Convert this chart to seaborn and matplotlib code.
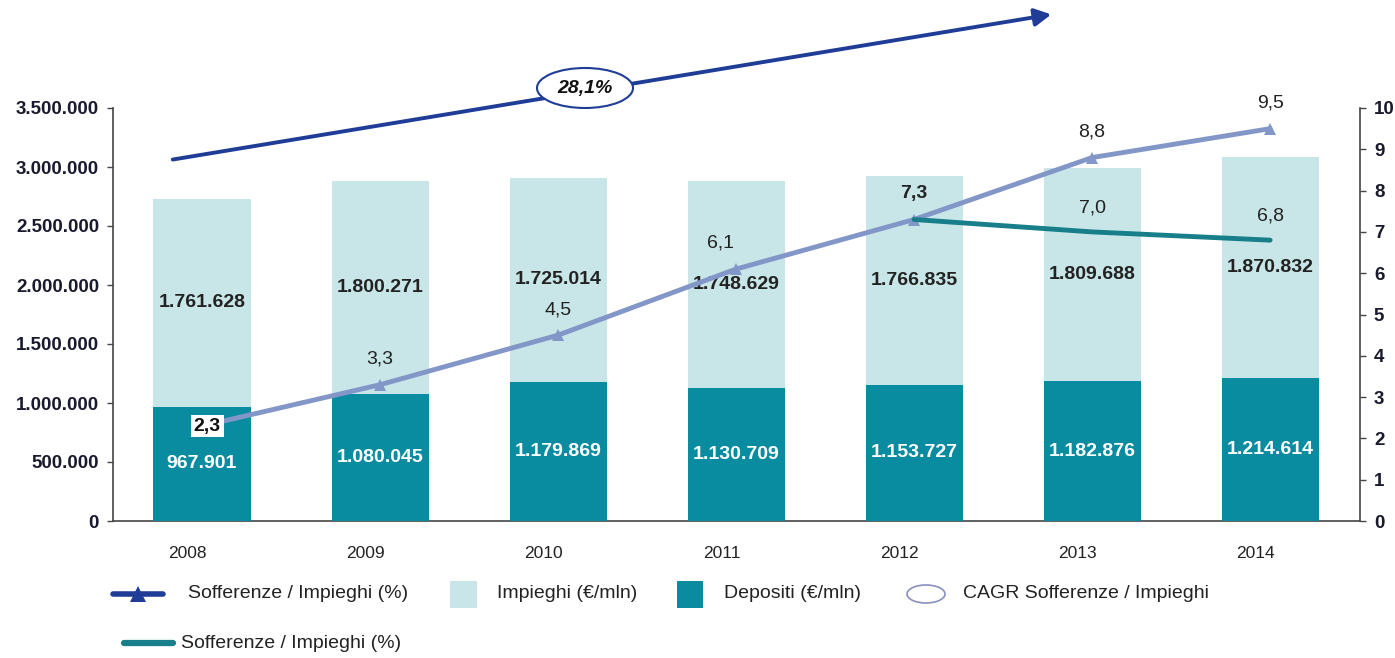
import matplotlib
matplotlib.use("Agg")
import matplotlib.pyplot as plt
from matplotlib.lines import Line2D
from matplotlib.patches import Rectangle, Ellipse, FancyArrowPatch
from matplotlib.ticker import FuncFormatter
import seaborn as sns
import pandas as pd
import numpy as np

years = ["2008", "2009", "2010", "2011", "2012", "2013", "2014"]
depositi = [967901, 1080045, 1179869, 1130709, 1153727, 1182876, 1214614]
impieghi = [1761628, 1800271, 1725014, 1748629, 1766835, 1809688, 1870832]
soff_imp = [2.3, 3.3, 4.5, 6.1, 7.3, 8.8, 9.5]
soff_years2 = ["2012", "2013", "2014"]
soff_imp2 = [7.3, 7.0, 6.8]
cagr_label = "28,1%"

C_IMP = "#c8e6e8"
C_DEP = "#0a8ca0"
C_LINE = "#8396c8"
C_LINE2 = "#177e8a"
C_NAVY = "#1f3d96"
C_TXT = "#1a1a2e"

sns.set_theme(style="white")
plt.rcParams['font.family'] = ['Liberation Sans', 'DejaVu Sans']
FONT = ['Liberation Sans', 'DejaVu Sans']

fig = plt.figure(figsize=(13.95, 6.58), dpi=100)
ax = fig.add_axes([113/1395, 1-521/658, (1360-113)/1395, (521-108)/658])

totals = [d + i for d, i in zip(depositi, impieghi)]
df = pd.DataFrame({"year": years, "dep": depositi, "imp": impieghi, "tot": totals})

sns.barplot(data=df, x="year", y="tot", color=C_IMP, width=0.545, ax=ax,
            saturation=1, linewidth=0, zorder=2)
sns.barplot(data=df, x="year", y="dep", color=C_DEP, width=0.545, ax=ax,
            saturation=1, linewidth=0, zorder=3)

ax.set_xlim(-0.5, 6.505)
ax.set_ylim(0, 3500000)
ax.set_yticks(np.arange(0, 3500001, 500000))
fmt = lambda v, p=None: f"{int(v):,}".replace(",", ".")
ax.yaxis.set_major_formatter(FuncFormatter(fmt))
ax.set_xticks(np.arange(len(years)) - 0.08, years)
ax.set_xlabel("")
ax.set_ylabel("")
for s in ["top", "right"]:
    ax.spines[s].set_visible(False)
for s in ["left", "bottom"]:
    ax.spines[s].set_color("#444444")
    ax.spines[s].set_linewidth(1.2)
ax.tick_params(axis="y", which="both", left=True, length=4, width=1, color="#444444",
               labelsize=13.5, labelcolor=C_TXT, pad=6)
ax.tick_params(axis="x", bottom=False, labelsize=12.5, labelcolor="#222222", pad=12)
for t in ax.get_yticklabels():
    t.set_fontweight("bold")

BFS = 14
for i in range(len(years)):
    ax.text(i, depositi[i] + impieghi[i] / 2, fmt(impieghi[i]), ha="center", va="center",
            fontsize=BFS, fontweight="bold", family=FONT, color="#222222", zorder=5)
    ax.text(i, depositi[i] / 2, fmt(depositi[i]), ha="center", va="center",
            fontsize=BFS, fontweight="bold", family=FONT, color="white", zorder=5)

ax2 = ax.twinx()
ax2.set_ylim(0, 10)
ax2.set_xlim(-0.5, 6.505)
ax2.set_yticks(range(0, 11))
for s in ["top", "left", "bottom"]:
    ax2.spines[s].set_visible(False)
ax2.spines["right"].set_color("#444444")
ax2.spines["right"].set_linewidth(1.2)
ax2.tick_params(axis="y", right=True, length=4, width=1, color="#444444",
                labelsize=13.5, labelcolor=C_TXT, pad=6)
for t in ax2.get_yticklabels():
    t.set_fontweight("bold")

xl = np.arange(len(years)).astype(float)
xl2 = np.array([years.index(y) for y in soff_years2]).astype(float)
d1 = pd.DataFrame({"x": xl, "y": soff_imp})
d2 = pd.DataFrame({"x": xl2, "y": soff_imp2})
sns.lineplot(data=d1, x="x", y="y", ax=ax2, color=C_LINE, linewidth=3.5,
             marker="^", markersize=8, markeredgewidth=0, zorder=4)
sns.lineplot(data=d2, x="x", y="y", ax=ax2, color=C_LINE2, linewidth=3.5, zorder=5)
ax2.set_xlabel("")
ax2.set_ylabel("")

LBL = 14
val = lambda v: f"{v:.1f}".replace(".", ",")
dx = {3: -0.09}
for i, v in enumerate(soff_imp):
    if i == 0:
        ax2.text(xl[i] + 0.03, v, val(v), ha="center", va="center", fontsize=LBL,
                 fontweight="bold", family=FONT, color="#111111", zorder=6,
                 bbox=dict(boxstyle="square,pad=0.15", fc="white", ec="none"))
    else:
        ax2.text(xl[i] + dx.get(i, 0), v + 0.62, val(v), ha="center", va="center",
                 fontsize=LBL, family=FONT,
                 fontweight="bold" if i == 4 else "normal", color="#222222", zorder=6)
for x, v in zip(xl2[1:], soff_imp2[1:]):
    ax2.text(x, v + 0.58, val(v), ha="center", va="center", fontsize=LBL,
             family=FONT, color="#222222", zorder=6)

# CAGR arrow with ellipse
arr = FancyArrowPatch((170/1395, 1-160/658), (1054/1395, 1-14/658),
                      transform=fig.transFigure,
                      arrowstyle="-|>,head_length=4.5,head_width=2.4",
                      color=C_NAVY, linewidth=2.8, mutation_scale=2.2)
fig.add_artist(arr)
fig.add_artist(Ellipse((585/1395, 1-88/658), 96/1395, 40/658, transform=fig.transFigure,
                       fc="white", ec=C_NAVY, lw=1.5, zorder=5))
fig.text(585/1395, 1-89/658, cagr_label, ha="center", va="center", fontsize=14,
         fontweight="bold", style="italic", family=FONT, color="#111111", zorder=6)

# Legend (manual)
LFS = 14
ly = 1 - 594/658
fig.add_artist(Line2D([113/1395, 163/1395], [ly, ly], transform=fig.transFigure,
                      color=C_NAVY, lw=4))
fig.add_artist(Line2D([138/1395], [ly], transform=fig.transFigure, color=C_NAVY,
                      marker="^", markersize=12, markeredgewidth=0))
fig.text(188/1395, ly, "Sofferenze / Impieghi (%)", ha="left", va="center",
         fontsize=LFS, family=FONT, color="#222222")
fig.add_artist(Rectangle((450/1395, ly - 13.5/658), 27/1395, 27/658,
                         transform=fig.transFigure, fc=C_IMP, ec="none"))
fig.text(497/1395, ly, "Impieghi (€/mln)", ha="left", va="center", fontsize=LFS,
         family=FONT, color="#222222")
fig.add_artist(Rectangle((677/1395, ly - 13.5/658), 26/1395, 27/658,
                         transform=fig.transFigure, fc=C_DEP, ec="none"))
fig.text(724/1395, ly, "Depositi (€/mln)", ha="left", va="center", fontsize=LFS,
         family=FONT, color="#222222")
fig.add_artist(Ellipse((926/1395, ly), 38/1395, 18/658, transform=fig.transFigure,
                       fc="white", ec="#8a90c0", lw=1.2))
fig.text(963/1395, ly, "CAGR Sofferenze / Impieghi", ha="left", va="center",
         fontsize=LFS, family=FONT, color="#222222")
ly2 = 1 - 643/658
fig.add_artist(Line2D([124/1395, 173/1395], [ly2, ly2], transform=fig.transFigure,
                      color=C_LINE2, lw=4.5, solid_capstyle="round"))
fig.text(181/1395, ly2, "Sofferenze / Impieghi (%)", ha="left", va="center",
         fontsize=LFS, family=FONT, color="#222222")

fig.savefig("out.png", dpi=100)
